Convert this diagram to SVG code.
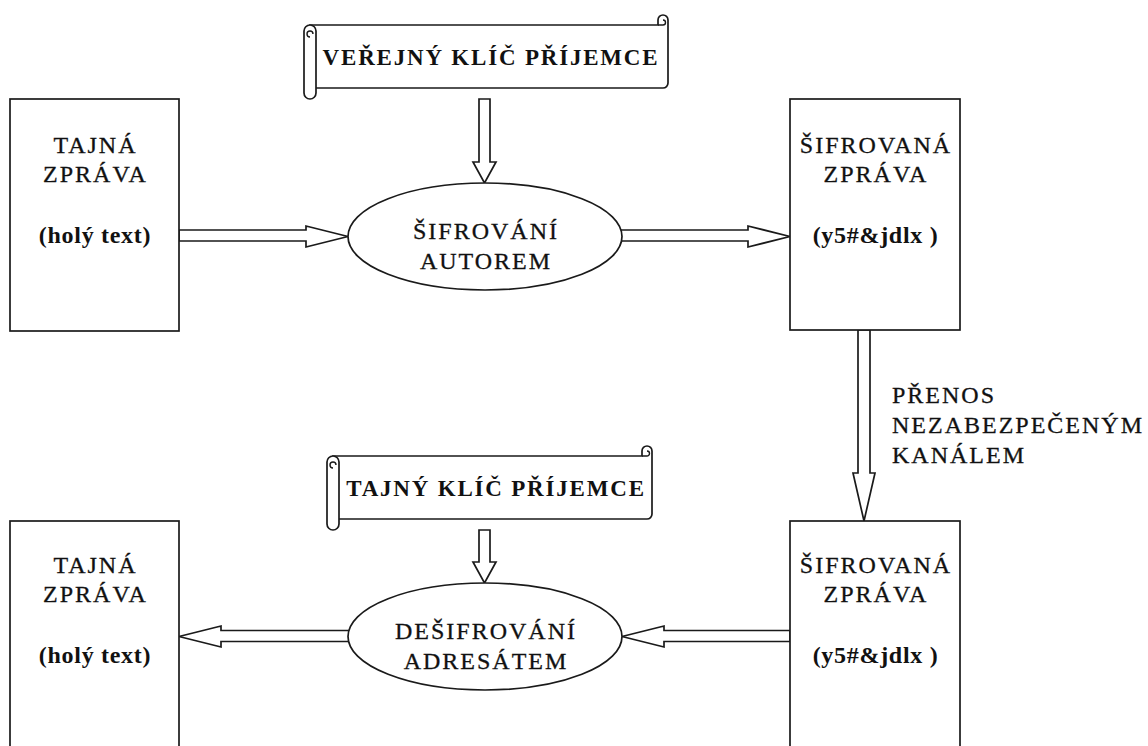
<svg xmlns="http://www.w3.org/2000/svg" width="1148" height="746" viewBox="0 0 1148 746">
  <style>
    .shape { fill: #fff; stroke: #1a1a1a; stroke-width: 1.7; stroke-linejoin: miter; }
    .curl { fill: none; stroke: #1a1a1a; stroke-width: 1.4; }
    .arrow { fill: #fff; stroke: #1a1a1a; stroke-width: 1.7; stroke-linejoin: miter; }
    text { font-family: "Liberation Serif", "Times New Roman", serif; fill: #111; }
    .t { font-size: 24px; letter-spacing: 2px; text-anchor: middle; stroke: #111; stroke-width: 0.3; }
    .b { font-size: 24px; font-weight: bold; letter-spacing: 0.7px; text-anchor: middle; }
    .s { font-size: 23px; font-weight: bold; letter-spacing: 1.8px; text-anchor: middle; }
    .l { font-size: 24px; letter-spacing: 2px; stroke: #111; stroke-width: 0.3; }
  </style>

  <!-- block arrows between the nodes -->
  <g id="connectors">
    <!-- public key -> encryption -->
    <polygon class="arrow" points="479,99 490,99 490,162 496,162 484.5,183 473,162 479,162"/>
    <!-- plain message -> encryption -->
    <polygon class="arrow" points="179,230 306,230 306,226 348,236.5 306,247 306,241 179,241"/>
    <!-- encryption -> ciphertext -->
    <polygon class="arrow" points="618,230 748,230 748,226 790,236.5 748,247 748,241 618,241"/>
    <!-- transfer over insecure channel -->
    <polygon class="arrow" points="858,330 870,330 870,473 875,473 864,521 853,473 858,473"/>
    <!-- private key -> decryption -->
    <polygon class="arrow" points="479,530 490,530 490,562 496,562 484.5,583 473,562 479,562"/>
    <!-- ciphertext -> decryption -->
    <polygon class="arrow" points="790,630.5 664,630.5 664,626 622,636.5 664,647 664,641.5 790,641.5"/>
    <!-- decryption -> plain message -->
    <polygon class="arrow" points="352,630.5 221,630.5 221,626 179,636.5 221,647 221,641.5 352,641.5"/>
  </g>

  <!-- public key scroll -->
  <g id="public-key">
    <path class="shape" d="M310,25 H658 V20 A5,5 0 0 1 668,20 V83 A5,5 0 0 1 663,88 H310 Z"/>
    <path class="curl" d="M658,25 H663 A2.5,2.5 0 0 0 663,20"/>
    <path class="shape" d="M316,31 V93 A6,6 0 0 1 304,93 V31 A6,6 0 0 1 316,31 Z"/>
    <path class="curl" d="M310,37 A3,3 0 1 1 313,34"/>
    <text class="s" x="491" y="65">VEŘEJNÝ KLÍČ PŘÍJEMCE</text>
  </g>

  <!-- secret message (sender) -->
  <g id="plain-top">
    <rect class="shape" x="10" y="99" width="169" height="232"/>
    <text class="t" x="95.5" y="153">TAJNÁ</text>
    <text class="t" x="95.5" y="182">ZPRÁVA</text>
    <text class="b" x="95" y="243">(holý text)</text>
  </g>

  <!-- encryption -->
  <g id="encrypt">
    <ellipse class="shape" cx="485" cy="236.5" rx="137" ry="53.5"/>
    <text class="t" x="486" y="239">ŠIFROVÁNÍ</text>
    <text class="t" x="486" y="269">AUTOREM</text>
  </g>

  <!-- ciphertext (sender side) -->
  <g id="cipher-top">
    <rect class="shape" x="790" y="99" width="170" height="231"/>
    <text class="t" x="876" y="153">ŠIFROVANÁ</text>
    <text class="t" x="876" y="182">ZPRÁVA</text>
    <text class="b" x="875.5" y="243">(y5#&amp;jdlx )</text>
  </g>

  <!-- channel label -->
  <g id="channel-label">
    <text class="l" x="892" y="403">PŘENOS</text>
    <text class="l" x="892" y="433">NEZABEZPEČENÝM</text>
    <text class="l" x="892" y="463">KANÁLEM</text>
  </g>

  <!-- private key scroll -->
  <g id="private-key">
    <path class="shape" d="M333,456 H642 V451 A5,5 0 0 1 652,451 V514 A5,5 0 0 1 647,519 H333 Z"/>
    <path class="curl" d="M642,456 H647 A2.5,2.5 0 0 0 647,451"/>
    <path class="shape" d="M339,462 V524 A6,6 0 0 1 327,524 V462 A6,6 0 0 1 339,462 Z"/>
    <path class="curl" d="M333,468 A3,3 0 1 1 336,465"/>
    <text class="s" x="496" y="496">TAJNÝ KLÍČ PŘÍJEMCE</text>
  </g>

  <!-- ciphertext (receiver side) -->
  <g id="cipher-bottom">
    <rect class="shape" x="790" y="521" width="170" height="240"/>
    <text class="t" x="876" y="573">ŠIFROVANÁ</text>
    <text class="t" x="876" y="602">ZPRÁVA</text>
    <text class="b" x="875.5" y="663">(y5#&amp;jdlx )</text>
  </g>

  <!-- decryption -->
  <g id="decrypt">
    <ellipse class="shape" cx="485" cy="636.5" rx="137" ry="53.5"/>
    <text class="t" x="486" y="639">DEŠIFROVÁNÍ</text>
    <text class="t" x="486" y="669">ADRESÁTEM</text>
  </g>

  <!-- secret message (receiver) -->
  <g id="plain-bottom">
    <rect class="shape" x="10" y="521" width="169" height="240"/>
    <text class="t" x="95.5" y="573">TAJNÁ</text>
    <text class="t" x="95.5" y="602">ZPRÁVA</text>
    <text class="b" x="95" y="663">(holý text)</text>
  </g>
</svg>
